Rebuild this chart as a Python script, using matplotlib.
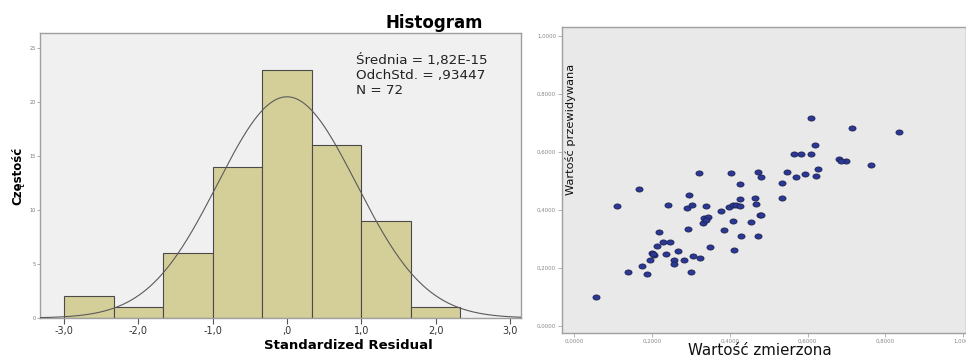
import matplotlib.pyplot as plt
import numpy as np
from matplotlib.path import Path

# histogram data
bin_edges = [-3.0, -2.3333, -1.6667, -1.0, -0.3333, 0.3333, 1.0, 1.6667, 2.3333]
counts = [2, 1, 6, 14, 23, 16, 9, 1]
resid_mean = 1.82e-15
resid_std = 0.93447
n_obs = 72
hist_xticks = [-3, -2, -1, 0, 1, 2, 3]
hist_xticklabels = ['-3,0', '-2,0', '-1,0', ',0', '1,0', '2,0', '3,0']
hist_yticks = [0, 5, 10, 15, 20, 25]

# scatter data: measured vs predicted
measured = [0.056, 0.137, 0.186, 0.174, 0.195, 0.206, 0.200, 0.212, 0.218, 0.229,
            0.247, 0.235, 0.256, 0.256, 0.266, 0.281, 0.301, 0.305, 0.324, 0.348,
            0.293, 0.332, 0.334, 0.343, 0.289, 0.303, 0.294, 0.242, 0.109, 0.166,
            0.339, 0.376, 0.385, 0.398, 0.407, 0.415, 0.426, 0.408, 0.410, 0.429,
            0.426, 0.425, 0.454, 0.473, 0.477, 0.468, 0.465, 0.480, 0.471, 0.535,
            0.535, 0.571, 0.546, 0.594, 0.622, 0.626, 0.320, 0.404, 0.608, 0.715,
            0.835, 0.618, 0.564, 0.582, 0.609, 0.681, 0.699, 0.763, 0.686, 0.480,
            0.203, 0.338]
predicted = [0.099, 0.184, 0.177, 0.205, 0.228, 0.245, 0.252, 0.276, 0.322, 0.289,
             0.289, 0.248, 0.228, 0.213, 0.257, 0.227, 0.186, 0.241, 0.234, 0.271,
             0.334, 0.356, 0.370, 0.376, 0.405, 0.417, 0.452, 0.415, 0.413, 0.471,
             0.412, 0.397, 0.331, 0.410, 0.417, 0.416, 0.413, 0.360, 0.260, 0.308,
             0.438, 0.489, 0.358, 0.310, 0.382, 0.421, 0.440, 0.514, 0.530, 0.441,
             0.493, 0.513, 0.531, 0.522, 0.516, 0.540, 0.527, 0.527, 0.716, 0.683,
             0.667, 0.622, 0.592, 0.592, 0.591, 0.575, 0.568, 0.554, 0.568, 0.381,
             0.248, 0.364]
sc_ticks = [0.0, 0.2, 0.4, 0.6, 0.8, 1.0]
sc_ticklabels = ['0,0000', '0,2000', '0,4000', '0,6000', '0,8000', '1,0000']

plt.rcParams['font.family'] = 'DejaVu Sans'
fig = plt.figure(figsize=(9.66, 3.56), dpi=100)

# ---- histogram ----
ax1 = fig.add_axes([0.0414, 0.1067, 0.4976, 0.8006])
ax1.set_facecolor('#f0f0f0')
widths = np.diff(bin_edges)
ax1.bar(bin_edges[:-1], counts, width=widths, align='edge',
        color='#d4cf99', edgecolor='#4a4a4a', linewidth=0.8, zorder=2)
xs = np.linspace(-3.4, 3.2, 400)
bw = widths.mean()
curve = n_obs * bw / (resid_std * np.sqrt(2 * np.pi)) * np.exp(-0.5 * ((xs - resid_mean) / resid_std) ** 2)
ax1.plot(xs, curve, color='#5a5a5a', linewidth=0.8, zorder=3)
ax1.set_xlim(-3.323, 3.144)
ax1.set_ylim(0, 26.4)
ax1.set_xticks(hist_xticks)
ax1.set_xticklabels(hist_xticklabels, fontsize=7, color='#333333')
ax1.set_yticks(hist_yticks)
ax1.set_yticklabels([str(v) for v in hist_yticks], fontsize=3.5, color='#777777')
ax1.tick_params(axis='x', length=4, width=0.8, color='#555555', pad=2)
ax1.tick_params(axis='y', length=2, width=0.5, color='#888888', pad=1)
for s in ax1.spines.values():
    s.set_color('#a0a0a0')
    s.set_linewidth(1.0)
ax1.text(0.657, 0.925, 'Średnia = 1,82E-15\nOdchStd. = ,93447\nN = 72',
         transform=ax1.transAxes, ha='left', va='top', fontsize=9.7,
         linespacing=1.2, color='#222222')
fig.text(0.450, 0.935, 'Histogram', ha='center', va='center',
         fontsize=12, fontweight='bold')
fig.text(0.0186, 0.506, 'Częstość', rotation=90, ha='center', va='center',
         fontsize=8.5, fontweight='bold')
fig.text(0.3608, 0.029, 'Standardized Residual', ha='center', va='center',
         fontsize=9.5, fontweight='bold')

# ---- scatter ----
ax2 = fig.add_axes([0.5815, 0.0638, 0.4185, 0.861])
ax2.set_facecolor('#e9e9e9')
t = np.linspace(0, 2 * np.pi, 40)
ell = Path(np.column_stack([np.cos(t), 0.72 * np.sin(t)]), closed=True)
ax2.scatter(measured, predicted, s=26, marker=ell, facecolor='#2b3896',
            edgecolor='#1c2250', linewidth=0.6, zorder=3)
ax2.set_xlim(-0.0324, 1.007)
ax2.set_ylim(-0.026, 1.031)
ax2.set_xticks(sc_ticks)
ax2.set_xticklabels(sc_ticklabels, fontsize=3.9, color='#888888')
ax2.set_yticks(sc_ticks)
ax2.set_yticklabels(sc_ticklabels, fontsize=3.9, color='#888888')
ax2.tick_params(length=3, width=0.5, color='#999999', pad=1)
for s in ax2.spines.values():
    s.set_color('#a0a0a0')
    s.set_linewidth(1.0)
fig.text(0.5906, 0.637, 'Wartość przewidywana', rotation=90, ha='center',
         va='center', fontsize=8.2, color='#111111')
fig.text(0.787, 0.004, 'Wartość zmierzona', ha='center', va='baseline',
         fontsize=10.8, color='#111111')

plt.savefig('out.png', dpi=100)
plt.close()
